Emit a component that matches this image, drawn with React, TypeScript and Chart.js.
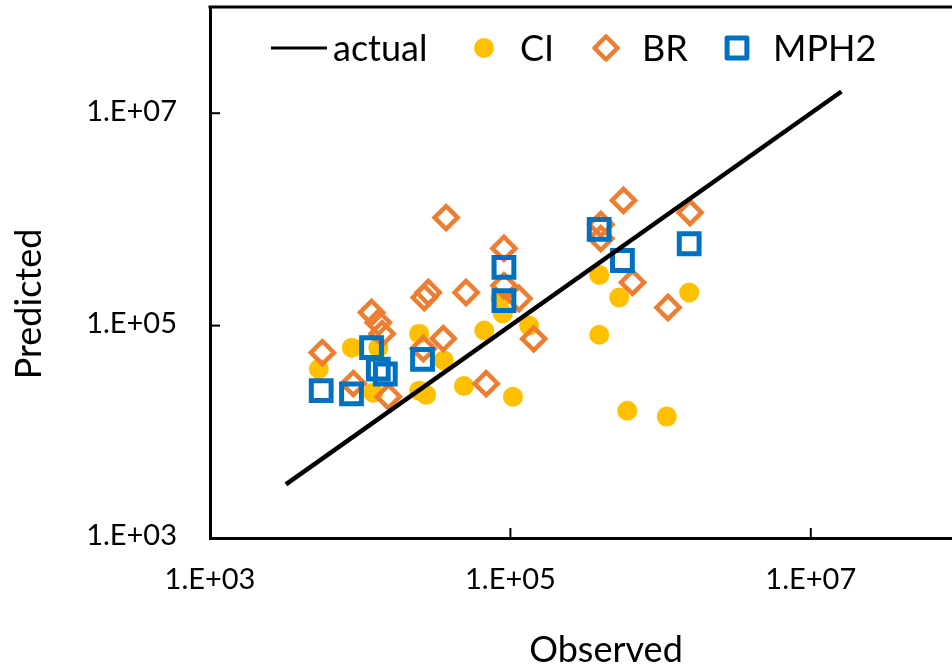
import { useEffect, useRef } from "react";
import { Chart, registerables } from "chart.js";

Chart.register(...registerables);

const FONT = "Lato, 'Noto Sans', sans-serif";

// Decade ticks shown on both log axes
const tickValues = [1e3, 1e5, 1e7];
const tickLabels = ["1.E+03", "1.E+05", "1.E+07"];

// 1:1 reference line
const actualX = [3.2e3, 1.6e7];
const actualY = [3.2e3, 1.6e7];

// CI model
const ciX = [5.3e3, 8.8e3, 1.32e4, 2.47e4, 1.22e4, 2.47e4, 2.75e4, 3.6e4, 4.9e4, 6.7e4, 8.9e4, 8.6e4, 1.04e5, 1.33e5, 3.9e5, 5.3e5, 1.55e6, 3.9e5, 6.0e5, 1.1e6];
const ciY = [3.9e4, 6.2e4, 6.2e4, 8.4e4, 2.33e4, 2.44e4, 2.23e4, 4.7e4, 2.7e4, 9.0e4, 1.3e5, 1.8e5, 2.14e4, 1.0e5, 3.0e5, 1.84e5, 2.05e5, 8.2e4, 1.58e4, 1.39e4];

// BR model
const brX = [5.6e3, 9.0e3, 1.19e4, 1.32e4, 1.4e4, 1.54e4, 2.67e4, 2.84e4, 2.63e4, 3.57e4, 3.73e4, 5.07e4, 6.9e4, 9.06e4, 9.06e4, 1.14e5, 1.43e5, 4.0e5, 4.0e5, 5.66e5, 6.5e5, 1.12e6, 1.57e6];
const brY = [5.56e4, 2.84e4, 1.33e5, 1.07e5, 8.4e4, 2.14e4, 1.84e5, 2.05e5, 6.07e4, 7.54e4, 1.04e6, 2.05e5, 2.84e4, 5.33e5, 2.38e5, 1.8e5, 7.5e4, 8.97e5, 6.6e5, 1.51e6, 2.55e5, 1.48e5, 1.16e6];

// MPH2 model
const mphX = [5.5e3, 8.75e3, 1.19e4, 1.32e4, 1.47e4, 2.6e4, 9.06e4, 9.06e4, 3.9e5, 5.57e5, 1.55e6];
const mphY = [2.44e4, 2.28e4, 6.2e4, 3.9e4, 3.5e4, 4.8e4, 3.53e5, 1.72e5, 8.05e5, 4.1e5, 5.9e5];

const toPoints = (xs: number[], ys: number[]) => xs.map((x, i) => ({ x, y: ys[i] }));

// Legend item start offsets from the plot's left edge
const legendOffsets = [61, 260, 382, 513];

function markerPath(ctx: CanvasRenderingContext2D, style: string, x: number, y: number, r: number) {
  ctx.beginPath();
  if (style === "circle") {
    ctx.arc(x, y, r, 0, Math.PI * 2);
  } else if (style === "rectRot") {
    ctx.moveTo(x - r, y);
    ctx.lineTo(x, y - r);
    ctx.lineTo(x + r, y);
    ctx.lineTo(x, y + r);
    ctx.closePath();
  } else {
    const s = r * Math.SQRT1_2;
    ctx.rect(x - s, y - s, 2 * s, 2 * s);
  }
}

// Frame top edge, inward tick marks, axis titles and the in-plot legend
const overlay = {
  id: "overlay",
  afterDraw(chart: any) {
    const { ctx, chartArea: a, scales } = chart;
    ctx.save();

    ctx.strokeStyle = "#000";
    ctx.lineWidth = 3;
    ctx.beginPath();
    ctx.moveTo(a.left - 1.5, a.top);
    ctx.lineTo(a.right, a.top);
    ctx.stroke();

    ctx.lineWidth = 2;
    tickValues.forEach((v) => {
      const px = scales.x.getPixelForValue(v);
      const py = scales.y.getPixelForValue(v);
      ctx.beginPath();
      ctx.moveTo(px, a.bottom);
      ctx.lineTo(px, a.bottom - 10);
      ctx.stroke();
      ctx.beginPath();
      ctx.moveTo(a.left, py);
      ctx.lineTo(a.left + 10, py);
      ctx.stroke();
    });

    ctx.fillStyle = "#000";
    ctx.font = `36px ${FONT}`;
    ctx.textAlign = "center";
    ctx.textBaseline = "alphabetic";
    ctx.fillText("Observed", a.left + 396, a.bottom + 124);
    ctx.save();
    ctx.translate(41, a.top + 297);
    ctx.rotate(-Math.PI / 2);
    ctx.fillText("Predicted", 0, 0);
    ctx.restore();

    // legend
    ctx.textAlign = "left";
    const my = a.top + 41;
    const baseY = a.top + 54;
    chart.data.datasets.forEach((ds: any, i: number) => {
      let x = a.left + legendOffsets[i];
      if (ds.showLine) {
        ctx.strokeStyle = ds.borderColor;
        ctx.lineWidth = 3;
        ctx.beginPath();
        ctx.moveTo(x, my);
        ctx.lineTo(x + 56, my);
        ctx.stroke();
        x += 62;
      } else {
        markerPath(ctx, ds.pointStyle, x + 14, my, ds.pointRadius);
        if (ds.borderWidth > 0) {
          ctx.strokeStyle = ds.borderColor;
          ctx.lineWidth = ds.borderWidth;
          ctx.lineJoin = "round";
          ctx.stroke();
        } else {
          ctx.fillStyle = ds.backgroundColor;
          ctx.fill();
        }
        x += 50;
      }
      ctx.fillStyle = "#000";
      ctx.fillText(ds.label, x, baseY);
    });

    ctx.restore();
  },
};

const tickFormat = (value: any) => {
  const i = tickValues.indexOf(Number(value));
  return i >= 0 ? tickLabels[i] : "";
};

const clearPadding = (s: any) => {
  s.paddingTop = 0;
  s.paddingBottom = 0;
  s.paddingLeft = 0;
  s.paddingRight = 0;
};

export default function App() {
  const ref = useRef<HTMLCanvasElement | null>(null);

  useEffect(() => {
    if (!ref.current) return;
    const chart = new Chart(ref.current, {
      type: "scatter",
      data: {
        datasets: [
          {
            label: "actual",
            data: toPoints(actualX, actualY),
            showLine: true,
            borderColor: "#000",
            borderWidth: 4.5,
            pointRadius: 0,
            order: 0,
          } as any,
          {
            label: "CI",
            data: toPoints(ciX, ciY),
            pointStyle: "circle",
            pointRadius: 10,
            backgroundColor: "#FFC000",
            borderColor: "#FFC000",
            borderWidth: 0,
            order: 3,
          },
          {
            label: "BR",
            data: toPoints(brX, brY),
            pointStyle: "rectRot",
            pointRadius: 11.5,
            backgroundColor: "rgba(0,0,0,0)",
            borderColor: "#ED7D31",
            borderWidth: 4.5,
            order: 2,
          },
          {
            label: "MPH2",
            data: toPoints(mphX, mphY),
            pointStyle: "rect",
            pointRadius: 14,
            backgroundColor: "rgba(0,0,0,0)",
            borderColor: "#0070C0",
            borderWidth: 5,
            order: 1,
          },
        ],
      },
      options: {
        responsive: false,
        animation: false,
        layout: { autoPadding: false, padding: { top: 7, right: 11, left: 0, bottom: 0 } },
        plugins: {
          legend: { display: false },
          tooltip: { enabled: false },
        },
        elements: { point: { hoverRadius: 10 } },
        scales: {
          x: {
            type: "logarithmic",
            min: 1e3,
            max: 1e8,
            grid: { display: false, drawTicks: false },
            border: { display: true, color: "#000", width: 3 },
            afterBuildTicks: (s: any) => {
              s.ticks = tickValues.map((v) => ({ value: v }));
            },
            afterFit: (s: any) => {
              s.height = 129;
              clearPadding(s);
            },
            ticks: {
              autoSkip: false,
              maxRotation: 0,
              padding: 24,
              color: "#000",
              font: { family: FONT, size: 29 },
              callback: tickFormat,
            },
          },
          y: {
            type: "logarithmic",
            min: 1e3,
            max: 1e8,
            grid: { display: false, drawTicks: false },
            border: { display: true, color: "#000", width: 3 },
            afterBuildTicks: (s: any) => {
              s.ticks = tickValues.map((v) => ({ value: v }));
            },
            afterFit: (s: any) => {
              s.width = 210;
              clearPadding(s);
            },
            ticks: {
              autoSkip: false,
              padding: 33,
              labelOffset: -2,
              color: "#000",
              font: { family: FONT, size: 29 },
              callback: tickFormat,
            },
          },
        },
      },
      plugins: [overlay],
    });
    return () => chart.destroy();
  }, []);

  return (
    <div
      style={{
        position: "fixed",
        left: 0,
        top: 0,
        width: 952,
        height: 667,
        overflow: "hidden",
        background: "#fff",
      }}
    >
      <canvas ref={ref} width={972} height={667} style={{ width: 972, height: 667, display: "block" }} />
    </div>
  );
}
